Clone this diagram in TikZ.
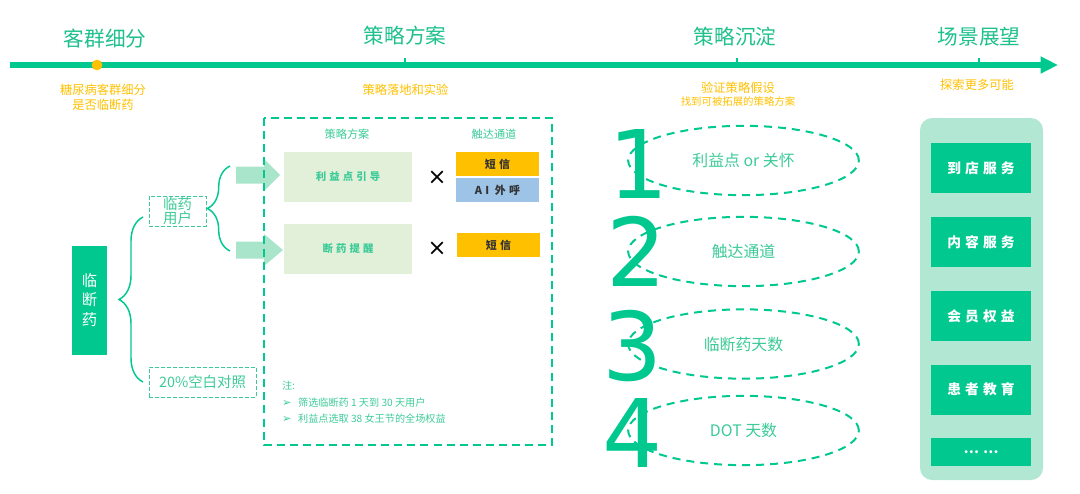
\documentclass[tikz,border=0pt]{standalone}
\usepackage{fontspec}
\setmainfont{Noto Sans CJK SC}
\newfontfamily\spacedfont[LetterSpace=30]{Noto Sans CJK SC}
\newfontfamily\symfont{DejaVu Sans}
\usetikzlibrary{arrows.meta,decorations.pathreplacing,shapes.geometric}

\definecolor{linegreen}{HTML}{00C88F}
\definecolor{textgreen}{HTML}{1EC08C}
\definecolor{softgreen}{HTML}{3CCB98}
\definecolor{noteyellow}{HTML}{FFC000}
\definecolor{arrowgreen}{HTML}{A9E5CB}
\definecolor{stratfill}{HTML}{E2F0D9}
\definecolor{chanyellow}{HTML}{FFC000}
\definecolor{chanblue}{HTML}{9DC3E6}
\definecolor{panelgreen}{HTML}{B2E8D3}

\begin{document}
\begin{tikzpicture}[
    x=0.75pt, y=-0.75pt,
    every node/.style={inner sep=0pt, outer sep=0pt},
    timeline/.style={line width=4pt, linegreen, -{Triangle[length=13pt, width=12pt]}},
    stage tick/.style={line width=1.1pt, linegreen},
    stage title/.style={text=textgreen, font=\fontsize{15.5}{18}\selectfont},
    stage note/.style={text=noteyellow, font=\fontsize{9.2}{11}\selectfont, align=center},
    small note/.style={text=noteyellow, font=\fontsize{7.8}{9}\selectfont},
    ctrl box/.style={fill=linegreen, text=white, align=center, minimum width=26.25pt, minimum height=81.75pt, font=\fontsize{11.5}{14.5}\selectfont},
    group box/.style={draw=softgreen, dash pattern=on 3pt off 1.5pt, line width=0.7pt, text=softgreen, align=center, font=\fontsize{10.8}{13}\selectfont},
    brace line/.style={decorate, linegreen, line width=1.1pt},
    flow arrow/.style={fill=arrowgreen},
    plan frame/.style={draw=linegreen, line width=1.9pt, dash pattern=on 6pt off 3.8pt},
    col head/.style={text=softgreen, font=\fontsize{8.4}{10}\selectfont},
    plan box/.style={fill=stratfill, text=softgreen, minimum width=96pt, minimum height=37.5pt, font=\spacedfont\bfseries\fontsize{7.8}{9}\selectfont},
    chan box/.style={minimum width=62.5pt, minimum height=17.5pt, text=black!80, font=\spacedfont\bfseries\fontsize{8.2}{9}\selectfont},
    times sign/.style={font=\symfont\fontsize{17}{17}\selectfont},
    note line/.style={anchor=west, text=softgreen, font=\fontsize{7.6}{9}\selectfont},
    big digit/.style={text=linegreen, font=\symfont\fontsize{71}{71}\selectfont},
    hint ellipse/.style={ellipse, draw=linegreen, line width=1.5pt, dash pattern=on 6pt off 4.5pt, minimum width=173pt, minimum height=52pt, text=softgreen, font=\fontsize{11.9}{14}\selectfont},
    scene box/.style={fill=linegreen, text=white, minimum width=75pt, minimum height=37.5pt, font=\spacedfont\bfseries\fontsize{10.3}{12}\selectfont}
]
    \useasboundingbox (0,0) rectangle (1080,493);

    % Timeline
    \draw[timeline] (10,65) -- (1058,65);
    \foreach \tx in {405,737,979}
        \draw[stage tick] (\tx,65) -- (\tx,57.5);
    \fill[noteyellow] (97,65) circle[radius=4pt];

    % Stages
    \node[stage title] (t1) at (105,39) {客群细分};
    \node[stage title] (t2) at (405,36) {策略方案};
    \node[stage title] (t3) at (735,37) {策略沉淀};
    \node[stage title] (t4) at (979,37) {场景展望};
    \node[stage note] (s1) at (103,97.5) {糖尿病客群细分\\是否临断药};
    \node[stage note] (s2) at (405.5,90) {策略落地和实验};
    \node[stage note] (s3) at (738,87.5) {验证策略假设};
    \node[small note] (s3b) at (738,102) {找到可被拓展的策略方案};
    \node[stage note] (s4) at (977,85) {探索更多可能};

    % Customer split
    \node[ctrl box] (ctrl) at (89.5,300) {临\\断\\药};
    \node[group box, minimum width=42.75pt, minimum height=22.5pt] (grp) at (177.5,211) {临药\\[-2pt]用户};
    \node[group box, minimum width=80.25pt, minimum height=22.5pt] (blank) at (202.5,382) {20\%空白对照};
    \coordinate (bigtop) at (143,217);
    \coordinate (bigbot) at (143,382);
    \coordinate (smalltop) at (230,166);
    \coordinate (smallbot) at (230,251);
    \draw[brace line, decoration={brace, amplitude=18pt}] (bigbot) -- (bigtop);
    \draw[brace line, decoration={brace, amplitude=17pt}] (smallbot) -- (smalltop);

    % Block arrows
    \foreach \ay/\ax in {175/280, 250/283}
        \fill[flow arrow] (236,\ay-8.5) -- (264,\ay-8.5) -- (264,\ay-16) -- (\ax,\ay)
            -- (264,\ay+16) -- (264,\ay+8.5) -- (236,\ay+8.5) -- cycle;

    % Plan frame
    \draw[plan frame] (264,118) rectangle (552,445);
    \node[col head] (h1) at (347,134) {策略方案};
    \node[col head] (h2) at (494,134) {触达通道};
    \node[plan box] (p1) at (348,177) {利益点引导};
    \node[plan box] (p2) at (348,248.5) {断药提醒};
    \node[times sign] (x1) at (437,178) {×};
    \node[times sign] (x2) at (437,249) {×};
    \node[chan box, fill=chanyellow] (c1) at (497.5,164) {短信};
    \node[chan box, fill=chanblue] (c2) at (497.5,190) {AI 外呼};
    \node[chan box, fill=chanyellow] (c3) at (498.5,245) {短信};

    % Notes
    \node[note line] (n0) at (282,386) {注:};
    \node[note line] (n1) at (282,403) {{\symfont\fontsize{8.5}{9}\selectfont ➢}\hspace{5pt}筛选临断药 1 天到 30 天用户};
    \node[note line] (n2) at (282,419) {{\symfont\fontsize{8.5}{9}\selectfont ➢}\hspace{5pt}利益点选取 38 女王节的全场权益};

    % Settled points
    \node[big digit] (d1) at (639,163.5) {1};
    \node[big digit] (d2) at (637,251.5) {2};
    \node[big digit] (d3) at (633,346.5) {3};
    \node[big digit] (d4) at (633,433) {4};
    \node[hint ellipse] (e1) at (743.5,160.5) {利益点 or 关怀};
    \node[hint ellipse] (e2) at (743.5,251.5) {触达通道};
    \node[hint ellipse] (e3) at (743.5,344) {临断药天数};
    \node[hint ellipse] (e4) at (743.5,430.5) {DOT 天数};

    % Scenes
    \fill[panelgreen, rounded corners=9pt] (920,118) rectangle (1043,480);
    \node[scene box] (r1) at (981,168) {到店服务};
    \node[scene box] (r2) at (981,242) {内容服务};
    \node[scene box] (r3) at (981,316) {会员权益};
    \node[scene box] (r4) at (981,389.5) {患者教育};
    \node[scene box, minimum height=21pt] (r5) at (981,452) {……};
\end{tikzpicture}
\end{document}
